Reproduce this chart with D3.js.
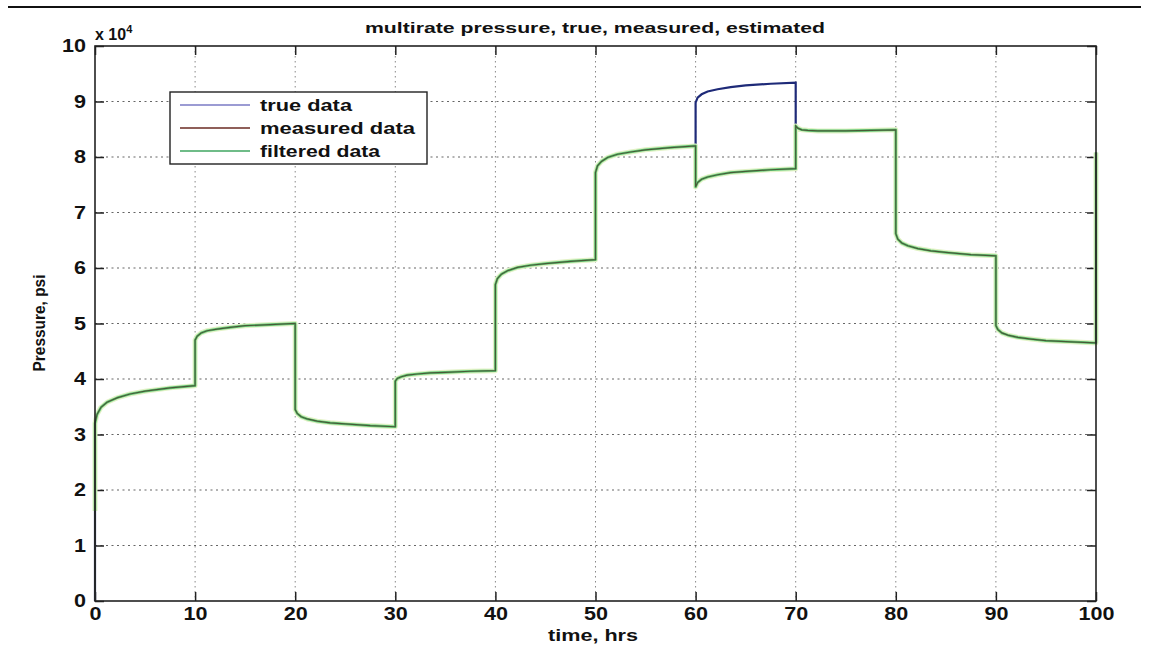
<!DOCTYPE html>
<html>
<head>
<meta charset="utf-8">
<script src="https://cdn.jsdelivr.net/npm/d3@7"></script>
<style>
  html, body { margin: 0; padding: 0; background: #fff; }
  svg { display: block; }
  text { font-family: "Liberation Sans", Arial, sans-serif; fill: #111; }
</style>
</head>
<body>
<svg id="chart" width="1149" height="648"></svg>
<script>
// ---- data (pressure in units of 10^4 psi) ----
const time = [
  0,
  0, 0.2, 0.6, 1.2, 2.2, 3.5, 5, 7.5, 10,
  10, 10.2, 10.6, 11.2, 12.2, 13.5, 15, 17.5, 20,
  20, 20.2, 20.6, 21.2, 22.2, 23.5, 25, 27.5, 30,
  30, 30.2, 30.6, 31.2, 32.2, 33.5, 35, 37.5, 40,
  40, 40.2, 40.6, 41.2, 42.2, 43.5, 45, 47.5, 50,
  50, 50.2, 50.6, 51.2, 52.2, 53.5, 55, 57.5, 60,
  60, 60.2, 60.6, 61.2, 62.2, 63.5, 65, 67.5, 70,
  70, 70.2, 70.6, 71.2, 72.2, 73.5, 75, 77.5, 80,
  80, 80.2, 80.6, 81.2, 82.2, 83.5, 85, 87.5, 90,
  90, 90.2, 90.6, 91.2, 92.2, 93.5, 95, 97.5, 100,
  100
];
const truePressure = [
  0,
  3.20, 3.36, 3.49, 3.58, 3.66, 3.73, 3.78, 3.84, 3.88,
  4.70, 4.77, 4.83, 4.87, 4.90, 4.93, 4.96, 4.98, 5.00,
  3.45, 3.38, 3.32, 3.28, 3.24, 3.21, 3.19, 3.16, 3.14,
  3.96, 4.01, 4.04, 4.07, 4.09, 4.11, 4.12, 4.14, 4.15,
  5.70, 5.81, 5.89, 5.95, 6.01, 6.05, 6.08, 6.12, 6.15,
  7.72, 7.84, 7.92, 7.99, 8.05, 8.09, 8.13, 8.17, 8.20,
  8.98, 9.07, 9.13, 9.18, 9.22, 9.26, 9.29, 9.32, 9.34,
  8.56, 8.52, 8.49, 8.48, 8.47, 8.47, 8.47, 8.48, 8.49,
  6.62, 6.52, 6.45, 6.40, 6.35, 6.31, 6.28, 6.24, 6.22,
  4.96, 4.89, 4.83, 4.79, 4.75, 4.72, 4.69, 4.67, 4.65,
  8.08
];
const measuredPressure = [
  0,
  3.20, 3.36, 3.49, 3.58, 3.66, 3.73, 3.78, 3.84, 3.88,
  4.70, 4.77, 4.83, 4.87, 4.90, 4.93, 4.96, 4.98, 5.00,
  3.45, 3.38, 3.32, 3.28, 3.24, 3.21, 3.19, 3.16, 3.14,
  3.96, 4.01, 4.04, 4.07, 4.09, 4.11, 4.12, 4.14, 4.15,
  5.70, 5.81, 5.89, 5.95, 6.01, 6.05, 6.08, 6.12, 6.15,
  7.72, 7.84, 7.92, 7.99, 8.05, 8.09, 8.13, 8.17, 8.20,
  7.46, 7.54, 7.60, 7.64, 7.68, 7.72, 7.74, 7.77, 7.79,
  8.56, 8.52, 8.49, 8.48, 8.47, 8.47, 8.47, 8.48, 8.49,
  6.62, 6.52, 6.45, 6.40, 6.35, 6.31, 6.28, 6.24, 6.22,
  4.96, 4.89, 4.83, 4.79, 4.75, 4.72, 4.69, 4.67, 4.65,
  8.08
];
const filteredPressure = [
  1.62,
  3.20, 3.36, 3.49, 3.58, 3.66, 3.73, 3.78, 3.84, 3.88,
  4.70, 4.77, 4.83, 4.87, 4.90, 4.93, 4.96, 4.98, 5.00,
  3.45, 3.38, 3.32, 3.28, 3.24, 3.21, 3.19, 3.16, 3.14,
  3.96, 4.01, 4.04, 4.07, 4.09, 4.11, 4.12, 4.14, 4.15,
  5.70, 5.81, 5.89, 5.95, 6.01, 6.05, 6.08, 6.12, 6.15,
  7.72, 7.84, 7.92, 7.99, 8.05, 8.09, 8.13, 8.17, 8.20,
  7.46, 7.54, 7.60, 7.64, 7.68, 7.72, 7.74, 7.77, 7.79,
  8.56, 8.52, 8.49, 8.48, 8.47, 8.47, 8.47, 8.48, 8.49,
  6.62, 6.52, 6.45, 6.40, 6.35, 6.31, 6.28, 6.24, 6.22,
  4.96, 4.89, 4.83, 4.79, 4.75, 4.72, 4.69, 4.67, 4.65,
  8.08
];
const xTicks = [0, 10, 20, 30, 40, 50, 60, 70, 80, 90, 100];
const yTicks = [0, 1, 2, 3, 4, 5, 6, 7, 8, 9, 10];
const seriesNames = ["true data", "measured data", "filtered data"];
const titleText = "multirate pressure, true, measured, estimated";
const xLabel = "time, hrs";
const yLabel = "Pressure, psi";

// ---- layout ----
const svg = d3.select("#chart");
const L = 95, R = 1096, T = 46, B = 601;
const x = d3.scaleLinear().domain([0, 100]).range([L, R]);
const y = d3.scaleLinear().domain([0, 10]).range([B, T]);

// top rule
svg.append("line").attr("x1", 8).attr("x2", 1141).attr("y1", 7).attr("y2", 7)
  .attr("stroke", "#111").attr("stroke-width", 2);

// grid
const grid = svg.append("g");
grid.selectAll(".gx").data(xTicks.slice(1, -1)).enter().append("line")
  .attr("x1", d => x(d)).attr("x2", d => x(d)).attr("y1", T).attr("y2", B)
  .attr("stroke", "#888").attr("stroke-width", 1).attr("stroke-dasharray", "1.5,3.5");
grid.selectAll(".gy").data(yTicks.slice(1, -1)).enter().append("line")
  .attr("x1", L).attr("x2", R).attr("y1", d => y(d)).attr("y2", d => y(d))
  .attr("stroke", "#666").attr("stroke-width", 1.1).attr("stroke-dasharray", "2,3.5");

// axes via d3 (ticks inward)
const fmt = d => String(d);
const xAxisB = svg.append("g").attr("transform", `translate(0,${B})`)
  .call(d3.axisBottom(x).tickValues(xTicks).tickSize(-9).tickPadding(6).tickFormat(fmt));
const xAxisT = svg.append("g").attr("transform", `translate(0,${T})`)
  .call(d3.axisTop(x).tickValues(xTicks).tickSize(-9).tickFormat(""));
const yAxisL = svg.append("g").attr("transform", `translate(${L},0)`)
  .call(d3.axisLeft(y).tickValues(yTicks).tickSize(-9).tickPadding(9).tickFormat(fmt));
const yAxisR = svg.append("g").attr("transform", `translate(${R},0)`)
  .call(d3.axisRight(y).tickValues(yTicks).tickSize(-9).tickFormat(""));
[xAxisB, xAxisT, yAxisL, yAxisR].forEach(g => {
  g.select(".domain").remove();
  g.selectAll(".tick line").attr("stroke", "#222").attr("stroke-width", 1.5);
});
xAxisB.selectAll(".tick text")
  .attr("font-size", 18).attr("font-weight", "bold").attr("fill", "#111")
  .attr("dy", "0.7em")
  .attr("textLength", d => String(d).length * 12).attr("lengthAdjust", "spacingAndGlyphs");
yAxisL.selectAll(".tick text")
  .attr("font-size", 18).attr("font-weight", "bold").attr("fill", "#111")
  .attr("textLength", d => String(d).length * 12).attr("lengthAdjust", "spacingAndGlyphs");

// data lines
const pts = vals => time.map((t, i) => [t, vals[i]]);
const line = d3.line().x(d => x(d[0])).y(d => y(d[1]));
const plot = svg.append("g");
plot.append("path").attr("d", line(pts(truePressure)))
  .attr("fill", "none").attr("stroke", "#1e2a78").attr("stroke-width", 2.2);
plot.append("path").attr("d", line(pts(filteredPressure)))
  .attr("fill", "none").attr("stroke", "#e2f2c6").attr("stroke-width", 5).attr("stroke-linejoin", "round");
plot.append("path").attr("d", line(pts(filteredPressure)))
  .attr("fill", "none").attr("stroke", "#62c878").attr("stroke-width", 2.6).attr("stroke-linejoin", "round");
plot.append("path").attr("d", line(pts(measuredPressure)))
  .attr("fill", "none").attr("stroke", "#44482c").attr("stroke-width", 1.2).attr("opacity", 0.85);

// box
svg.append("rect").attr("x", L).attr("y", T).attr("width", R - L).attr("height", B - T)
  .attr("fill", "none").attr("stroke", "#222").attr("stroke-width", 1.6);

// title & labels
svg.append("text").attr("x", 595).attr("y", 33).attr("text-anchor", "middle")
  .attr("font-size", 15).attr("font-weight", "bold")
  .attr("textLength", 460).attr("lengthAdjust", "spacingAndGlyphs").text(titleText);
svg.append("text").attr("x", 593).attr("y", 641).attr("text-anchor", "middle")
  .attr("font-size", 16).attr("font-weight", "bold")
  .attr("textLength", 90).attr("lengthAdjust", "spacingAndGlyphs").text(xLabel);
svg.append("text").attr("transform", "translate(45,323) rotate(-90)").attr("text-anchor", "middle")
  .attr("font-size", 16).attr("font-weight", "bold")
  .attr("textLength", 97).attr("lengthAdjust", "spacingAndGlyphs").text(yLabel);
const mult = svg.append("text").attr("x", 95).attr("y", 40).attr("font-size", 16).attr("font-weight", "bold");
mult.append("tspan").text("x 10");
mult.append("tspan").attr("font-size", 11).attr("dy", -7).text("4");

// legend
const leg = svg.append("g");
leg.append("rect").attr("x", 170).attr("y", 92).attr("width", 257).attr("height", 72)
  .attr("fill", "#fff").attr("stroke", "#222").attr("stroke-width", 1.4);
const legColors = ["#7a7ac4", "#6a2a22", "#3fa660"];
const legWidths = [92, 155, 120];
seriesNames.forEach((n, i) => {
  const yy = 105 + i * 23;
  leg.append("line").attr("x1", 180).attr("x2", 250).attr("y1", yy).attr("y2", yy)
    .attr("stroke", legColors[i]).attr("stroke-width", 1.6);
  leg.append("text").attr("x", 260).attr("y", yy + 5.5).attr("font-size", 16).attr("font-weight", "bold")
    .attr("textLength", legWidths[i]).attr("lengthAdjust", "spacingAndGlyphs").text(n);
});
</script>
</body>
</html>
